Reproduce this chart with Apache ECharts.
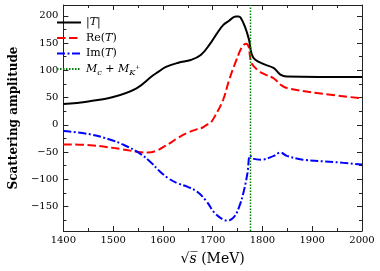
<!DOCTYPE html>
<html>
<head>
<meta charset="utf-8">
<script src="https://cdn.jsdelivr.net/npm/echarts@6/dist/echarts.min.js"></script>
<style>html,body{margin:0;padding:0;background:#fff}#c{width:380px;height:271px}</style>
</head>
<body>
<div id="c"></div>
<script>
var xTicks = [1400, 1500, 1600, 1700, 1800, 1900, 2000];
var yTicks = [-150, -100, -50, 0, 50, 100, 150, 200];
var thresholdX = 1776;

var absX = [1400,1450,1500,1547,1579,1592,1605,1631,1656,1676,1695,1708,1721,1733,1746,1752,1756,1765,1773,1778,1785,1804,1823,1836,1849,1913,2000];
var absY = [38,43,51,67,90,98,106,114,119,128,149,167,183,191,199,199,197,180,156,131,120,111,104,92,88.5,88,88];

var reX = [1400,1454,1519,1551,1570,1589,1602,1612,1631,1650,1669,1680,1688,1695,1704,1721,1733,1746,1759,1767,1772,1775,1778,1791,1804,1823,1836,1849,1913,2000];
var reY = [-36,-37.5,-45,-50,-51,-47,-40,-35,-23.5,-14.5,-8,-5,0,3,15,46,82,115,143,149,144,126,113,100,93,85,74,67.5,58,48.5];

var imX = [1400,1454,1493,1519,1551,1576,1592,1612,1631,1650,1669,1688,1704,1721,1730,1743,1753,1762,1770,1775,1781,1797,1823,1836,1849,1881,1945,2000];
var imY = [-11.5,-17.5,-27,-36,-51,-69,-84,-99,-108,-114,-123,-141,-162,-174,-176,-169,-151,-124,-88,-56,-62,-64,-57,-51,-57,-64,-68.5,-73];

var yMin = -195, yMax = 220;

function pairs(xs, ys){ return xs.map(function(x,i){ return [x, ys[i]]; }); }

var font = 'DejaVu Serif';
var rich = {
  n: {fontFamily: font, fontSize: 11, color: '#000'},
  it: {fontFamily: font, fontSize: 11, fontStyle: 'italic', color: '#000'},
  sub: {fontFamily: font, fontSize: 8, fontStyle: 'italic', color: '#000', padding: [7,0,0,0]},
  sub2: {fontFamily: font, fontSize: 8, fontStyle: 'italic', color: '#000', padding: [7,0,0,0]},
  sup: {fontFamily: font, fontSize: 6, color: '#000', padding: [0,0,3,0]}
};
var legendFmt = {
  'absT': '{n||}{it|T}{n||}',
  'reT': '{n|Re(}{it|T}{n|)}',
  'imT': '{n|Im(}{it|T}{n|)}',
  'thr': '{it|M}{sub|c}{n| + }{it|M}{sub2|K}{sup|+}'
};

var axisLineStyle = {color: '#222', width: 1};
function xAxisDef(pos, show){
  return {
    type: 'value', position: pos, min: 1400, max: 2000, interval: 100,
    axisLine: {show: true, onZero: false, lineStyle: axisLineStyle},
    axisTick: {show: true, inside: true, length: 5, lineStyle: {color: '#222'}},
    minorTick: {show: true, splitNumber: 2, length: 3, lineStyle: {color: '#222'}},
    splitLine: {show: false},
    axisLabel: {show: show, fontFamily: font, fontSize: 10, color: '#000', margin: 4,
      formatter: function(v){ return String(v); }},
    name: show ? '{r|√}{s|s\u0305}{r| (MeV)}' : '',
    nameLocation: 'middle', nameGap: 21,
    nameTextStyle: {rich: {
      r: {fontFamily: font, fontSize: 14, color: '#000'},
      s: {fontFamily: font, fontSize: 14, fontStyle: 'italic', color: '#000'}
    }}
  };
}
function yAxisDef(pos, show){
  return {
    type: 'value', position: pos, min: yMin, max: yMax,
    axisLine: {show: true, onZero: false, lineStyle: axisLineStyle},
    axisTick: {show: true, inside: true, length: 5, customValues: yTicks, lineStyle: {color: '#222'}},
    minorTick: {show: false},
    splitLine: {show: false},
    axisLabel: {show: show, customValues: yTicks, fontFamily: font, fontSize: 10, color: '#000', margin: 5,
      formatter: function(v){ return String(v).replace('-', '\u2212'); }},
    name: show ? 'Scattering amplitude' : '',
    nameLocation: 'middle', nameGap: 39,
    nameTextStyle: {fontFamily: font, fontSize: 12, fontWeight: 'bold', color: '#000'}
  };
}
var yMinor = [];
for (var v = -175; v <= 200; v += 50) yMinor.push(v);
function yMinorDef(pos){
  return {
    type: 'value', position: pos, min: yMin, max: yMax,
    axisLine: {show: false},
    axisTick: {show: true, inside: true, length: 3, customValues: yMinor, lineStyle: {color: '#222'}},
    axisLabel: {show: false, customValues: yMinor},
    splitLine: {show: false}
  };
}

var chart = echarts.init(document.getElementById('c'), null, {renderer: 'canvas'});
chart.setOption({
  animation: false,
  backgroundColor: '#fff',
  grid: {left: 50, right: 18, top: 5, bottom: 39, containLabel: false},
  xAxis: [xAxisDef('bottom', true), xAxisDef('top', false)],
  yAxis: [yAxisDef('left', true), yAxisDef('right', false), yMinorDef('left'), yMinorDef('right')],
  legend: {
    orient: 'vertical', left: 56, top: 17, padding: 0, itemGap: 4.5, itemWidth: 24, itemHeight: 12,
    data: ['absT', 'reT', 'imT', 'thr'],
    itemStyle: {opacity: 0},
    formatter: function(name){ return legendFmt[name]; },
    textStyle: {rich: rich}
  },
  series: [
    {name: 'absT', type: 'line', data: pairs(absX, absY), symbol: 'none', smooth: 0.4,
     lineStyle: {color: '#000', width: 2}, itemStyle: {color: '#000'}, z: 4},
    {name: 'reT', type: 'line', data: pairs(reX, reY), symbol: 'none', smooth: 0.4,
     lineStyle: {color: '#ff0000', width: 2, type: [8.5, 3.5]}, itemStyle: {color: '#ff0000'}, z: 3},
    {name: 'imT', type: 'line', data: pairs(imX, imY), symbol: 'none', smooth: 0.4,
     lineStyle: {color: '#0000ff', width: 2, type: [8, 2.5, 2, 2.5]}, itemStyle: {color: '#0000ff'}, z: 3},
    {name: 'thr', type: 'line', data: [[thresholdX, yMin], [thresholdX, yMax]], symbol: 'none',
     lineStyle: {color: '#008000', width: 1.5, type: [1.5, 1.5]}, itemStyle: {color: '#008000'}, z: 5}
  ]
});
</script>
</body>
</html>
